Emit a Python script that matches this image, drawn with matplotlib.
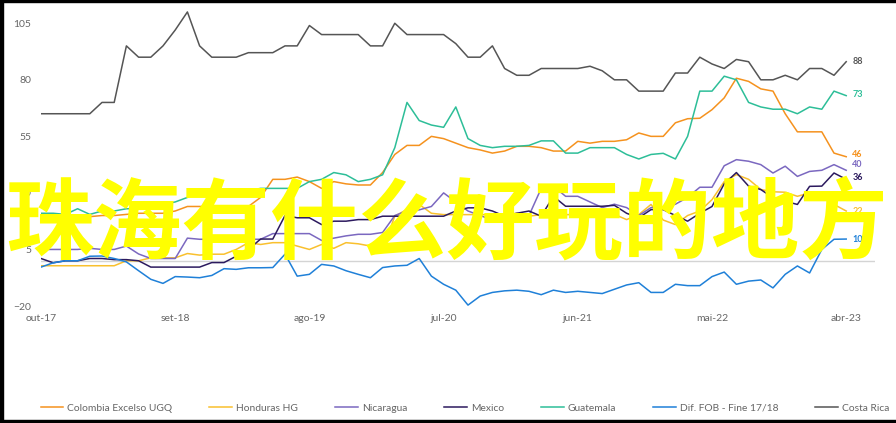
import matplotlib
matplotlib.use("Agg")
import matplotlib.pyplot as plt
from matplotlib.patches import Rectangle

plt.rcParams['font.family'] = ['Lato', 'DejaVu Sans']

# monthly index, out-17 .. abr-23
tick_pos = [0, 11, 22, 33, 44, 55, 66]
tick_labels = ['out-17', 'set-18', 'ago-19', 'jul-20', 'jun-21', 'mai-22', 'abr-23']
y_ticks = [-20, 5, 30, 55, 80, 105]

colombia = [18, 17.5, 18, 19, 19.5, 20, 20, 20.5, 21, 21,
            21, 22, 24, 24, 24, 24, 24, 24, 28, 36,
            36, 37, 35, 32, 35, 34, 33.5, 33.5, 39, 47,
            51, 51, 55, 54, 52, 50, 49, 47.6, 48.5, 50.6,
            50.6, 50, 48.5, 48.5, 52.8, 52, 52.8, 52.8, 53.5, 56.5,
            55, 55, 61, 62.8, 63, 66.8, 72, 80.7, 79.3, 76,
            75, 65, 57, 57, 57, 47.6, 46]
honduras = [-2.2, -2.2, -2.2, -2.2, -2.2, -2.2, -2.2, 0, 0, 1.3,
            1.3, 1.3, 3.2, 2.5, 2.9, 2.9, 5, 8, 7.2, 8,
            8, 6.5, 5, 7.2, 5.5, 8, 7.5, 6.5, 5, 19.7,
            22.7, 24.9, 21, 20.4, 20.4, 20.4, 20.4, 20.4, 20.4, 21,
            19.7, 20.4, 20.4, 20.4, 20.4, 20.4, 21, 20.5, 18.2, 20.4,
            24.9, 18, 16, 20, 22, 27, 35, 38.1, 36, 31.5,
            30.5, 30.3, 28.5, 30, 30, 24.9, 22]
nicaragua = [5, 5, 5, 5, 5.5, 5, 5, 6.5, 3, 1,
             1, 1, 10, 9.5, 9.5, 9.5, 9.5, 9.5, 9.5, 12,
             12, 12, 12, 9, 10, 11, 11.7, 11.7, 12.5, 20,
             22, 22.5, 24, 30, 26, 22, 20, 18, 18, 17.5,
             20, 32, 33, 28.5, 28.5, 26, 23.5, 25, 23.5, 20,
             23.5, 23.5, 25, 28, 32.5, 32.5, 42, 44.7, 44, 42.5,
             38.8, 41.8, 37.3, 39.5, 40, 42.5, 40]
mexico = [1, -0.9, 0, 0, 1, 1, 0.5, 0.5, 0, -2.8,
          -2.8, -2.8, -2.8, -2.8, -0.8, -0.8, 2, 5, 9.6, 9.6,
          20, 19, 19, 16, 17.5, 17.5, 18.2, 18.2, 19.7, 19.7,
          19.7, 19.7, 19.7, 19.7, 22, 23.4, 23.4, 22, 19.7, 21,
          22, 19.7, 28.5, 24.1, 24.1, 24.1, 24.1, 24.5, 21, 19,
          22.6, 22.6, 20, 17.5, 21, 24, 34, 39, 33, 31.5,
          27.8, 26.3, 24.9, 32.9, 33, 38.8, 36]
guatemala = [21, 21, 20.5, 23, 20.5, 22, 22, 23, 23, 24,
             25, 26, 28, 31, 31, 31, 31, 31, 32, 32,
             32, 32, 35, 36, 39, 38, 35, 36, 38, 50,
             70, 62, 60, 59, 68, 54, 51, 50, 50.6, 50.6,
             51, 53, 53, 47.6, 47.6, 50, 50, 50, 47, 45,
             47, 47.5, 45, 55, 75, 75, 81.6, 80, 70, 68,
             67, 67, 65, 68, 67, 75, 73]
dif_fob = [-2.8, -0.9, 0, 0, 2, 2.1, 1, -0.5, -4.4, -8.2,
           -10, -7, -7.2, -7.5, -6.5, -3.5, -3.8, -3.1, -3.1, -3,
           2.9, -6.8, -6, -1.6, -2.3, -4.4, -6, -7.5, -3, -2.3,
           -2, 1, -6.8, -10.4, -13, -19.6, -15.6, -14, -13.3, -13,
           -13.5, -15, -13, -14, -13.5, -14, -14.5, -12.6, -10.7, -9.7,
           -14, -14, -10.4, -11, -11, -7, -5, -10.4, -9, -8.5,
           -12, -6, -2.3, -5.4, 5, 9.5, 9.6]
costa_rica = [65, 65, 65, 65, 65, 70, 70, 95, 90, 90,
              95, 102, 110, 95, 90, 90, 90, 92, 92, 92,
              95, 95, 104, 100, 100, 100, 100, 95, 95, 105,
              100, 100, 100, 100, 96, 90, 90, 95, 85, 82,
              82, 85, 85, 85, 85, 86, 84, 80, 80, 75,
              75, 75, 83, 83, 90, 87, 85, 89, 88, 80,
              80, 82, 80, 85, 85, 82, 88]

series = [
    ('Colombia Excelso UGQ', colombia, '#F5921E', 2),
    ('Honduras HG', honduras, '#F9C02E', 0),
    ('Nicaragua', nicaragua, '#7B68C0', 6),
    ('Mexico', mexico, '#2C1A5E', 2),
    ('Guatemala', guatemala, '#2DBE98', 1),
    ('Dif. FOB - Fine 17/18', dif_fob, '#1F80D8', 0),
    ('Costa Rica', costa_rica, '#555555', 0),
]

W, H = 896, 423
fig = plt.figure(figsize=(W / 100, H / 100), dpi=100)
ax = fig.add_axes([41 / W, 1 - 306 / H, (875 - 41) / W, (306 - 10) / H])

px_per_month = 12.2
px_per_unit = 56.7 / 25
ax.set_xlim(0, (875 - 41) / px_per_month)
ax.set_ylim(-20, 105 + (23.3 - 10) / px_per_unit)

ax.axhline(0, color='#d4d4d4', lw=1, zorder=1)

x = list(range(len(colombia)))
for name, vals, col, dy in series:
    ax.plot(x, vals, color=col, lw=1.1, label=name, zorder=3)
    ax.annotate(f"{vals[-1]:.0f}", (x[-1], vals[-1]), xytext=(6, dy),
                textcoords='offset pixels', color=col, fontsize=6.5,
                fontweight='bold', va='center', ha='left')

for s in ax.spines.values():
    s.set_visible(False)
ax.set_xticks(tick_pos)
ax.set_xticklabels(tick_labels)
ax.set_yticks(y_ticks)
ax.tick_params(length=0, colors='#666666', labelsize=7.5)
ax.tick_params(axis='y', pad=7)
ax.tick_params(axis='x', pad=6)

leg = fig.legend(loc='center', bbox_to_anchor=(465 / W, 1 - 408 / H), ncol=7,
                 frameon=False, fontsize=7.4, handlelength=2.2, handletextpad=0.4,
                 columnspacing=3.6)
for t in leg.get_texts():
    t.set_color('#666666')

fig.text(446 / W, 1 - 226 / H, '珠海有什么好玩的地方', fontsize=63.5, color='#FFFF00',
         fontweight='bold', family=['Noto Sans CJK SC'], ha='center', va='center',
         zorder=10)

# dark frame from the screenshot
fig.add_artist(Rectangle((0, 0), 3 / W, 1, transform=fig.transFigure, color='black'))
fig.add_artist(Rectangle((0, 1 - 2 / H), 1, 2 / H, transform=fig.transFigure, color='black'))
fig.add_artist(Rectangle((0, 0), 1, 3 / H, transform=fig.transFigure, color='black'))

fig.savefig('out.png', dpi=100)
